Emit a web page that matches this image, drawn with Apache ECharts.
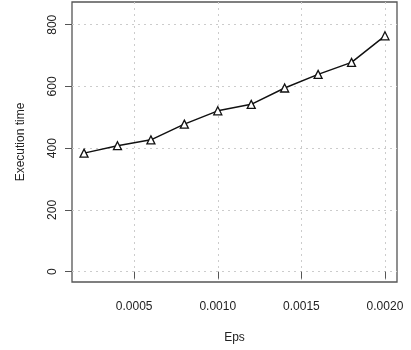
<!DOCTYPE html>
<html>
<head>
<meta charset="utf-8">
<script src="https://cdn.jsdelivr.net/npm/echarts@6/dist/echarts.min.js"></script>
<style>html,body{margin:0;padding:0;background:#fff;}#c{width:411px;height:350px;}</style>
</head>
<body>
<div id="c"></div>
<script>
const eps = [0.0002, 0.0004, 0.0006, 0.0008, 0.0010, 0.0012, 0.0014, 0.0016, 0.0018, 0.0020];
const execTime = [384, 408, 427, 478, 521, 542, 595, 639, 678, 764];
const xTicks = [0.0005, 0.0010, 0.0015, 0.0020];
const yTicks = [0, 200, 400, 600, 800];

const chart = echarts.init(document.getElementById('c'));
const font = 'Liberation Sans, Arial, sans-serif';
chart.setOption({
  animation: false,
  backgroundColor: '#fff',
  grid: { left: 72, right: 14, top: 2, bottom: 68, show: true, borderColor: '#555', borderWidth: 1.3, backgroundColor: 'transparent' },
  xAxis: {
    type: 'value', min: 0.000128, max: 0.002072,
    name: 'Eps', nameLocation: 'middle', nameGap: 50,
    nameTextStyle: { fontFamily: font, fontSize: 12, color: '#222' },
    axisLine: { show: false },
    axisTick: { show: true, length: 7, customValues: xTicks, lineStyle: { color: '#555' } },
    axisLabel: { customValues: xTicks, fontFamily: font, fontSize: 12, color: '#222', margin: 19,
      formatter: v => v.toFixed(4) },
    splitLine: { show: true, lineStyle: { color: '#ccc', type: [2, 4], width: 1 } }
  },
  yAxis: {
    type: 'value', min: -33.6, max: 873.6,
    name: 'Execution time', nameLocation: 'middle', nameGap: 45,
    nameTextStyle: { fontFamily: font, fontSize: 12, color: '#222' },
    axisLine: { show: false },
    axisTick: { show: true, length: 7, customValues: yTicks, lineStyle: { color: '#555' } },
    axisLabel: { customValues: yTicks, rotate: 90, fontFamily: font, fontSize: 12, color: '#222', margin: 13 },
    splitLine: { show: true, lineStyle: { color: '#ccc', type: [2, 4], width: 1 } }
  },
  series: [{
    type: 'line',
    data: eps.map((x, i) => [x, execTime[i]]),
    symbol: 'triangle', symbolSize: 8,
    itemStyle: { color: '#fff', borderColor: '#111', borderWidth: 1.3 },
    lineStyle: { color: '#111', width: 1.5 }
  }]
});
</script>
</body>
</html>
